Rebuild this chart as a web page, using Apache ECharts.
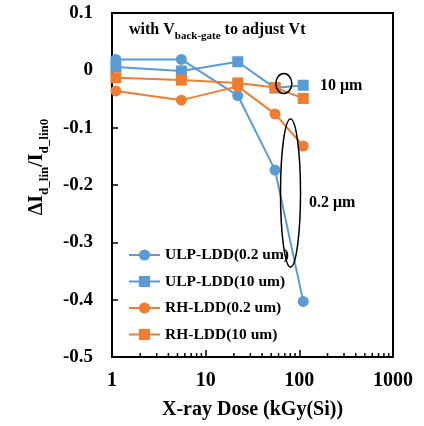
<!DOCTYPE html>
<html><head><meta charset="utf-8">
<script src="https://cdn.jsdelivr.net/npm/echarts@6/dist/echarts.min.js"></script>
<style>html,body{margin:0;padding:0;background:#fff}#c{width:424px;height:426px}</style>
</head><body><div id="c"></div>
<script>
var doses = [1.1, 5.5, 22, 55, 110];
var ulp02 = [0.019, 0.019, -0.044, -0.174, -0.403];
var ulp10 = [0.006, -0.001, 0.015, -0.031, -0.026];
var rh02 = [-0.036, -0.052, -0.028, -0.076, -0.132];
var rh10 = [-0.013, -0.017, -0.022, -0.030, -0.049];
var seriesNames = ['ULP-LDD(0.2 um)', 'ULP-LDD(10 um)', 'RH-LDD(0.2 um)', 'RH-LDD(10 um)'];
var xTicks = [1, 10, 100, 1000];
var yTicks = [0.1, 0, -0.1, -0.2, -0.3, -0.4, -0.5];
var minorX = [2,3,4,5,6,7,8,9,20,30,40,50,60,70,80,90,200,300,400,500,600,700,800,900];
var ellipses = [{x: 68.3, y: -0.023, rx: 8, ry: 10}, {x: 80.5, y: -0.214, rx: 10, ry: 74}];

var BLUE = '#5B9BD5', ORANGE = '#ED7D31';
var FONT = '"Liberation Serif", "Times New Roman", serif';
function pairs(vals){ return doses.map(function(d,i){ return [d, vals[i]]; }); }
function mk(name, vals, color, sym){
  return {name: name, type: 'line', data: pairs(vals), symbol: sym, symbolSize: 11,
    itemStyle: {color: color}, lineStyle: {color: color, width: 2}, z: 3};
}
var chart = echarts.init(document.getElementById('c'), null, {renderer: 'canvas'});
var option = {
  animation: false,
  backgroundColor: '#fff',
  grid: {left: 112, right: 31, top: 13, bottom: 69, show: true, borderColor: '#000', borderWidth: 2, backgroundColor: 'transparent'},
  legend: {
    orient: 'vertical', left: 123, top: 242, itemWidth: 31, itemHeight: 14, itemGap: 10.5,
    data: seriesNames,
    textStyle: {fontFamily: FONT, fontWeight: 'bold', fontSize: 15.5, color: '#000', lineHeight: 15}
  },
  xAxis: {
    type: 'log', logBase: 10, min: 1, max: 1000,
    axisLine: {onZero: false, lineStyle: {color: '#000', width: 2}},
    axisTick: {show: true, inside: true, length: 7, lineStyle: {color: '#000', width: 1.5}},
    splitLine: {show: false}, minorTick: {show: false},
    axisLabel: {fontFamily: FONT, fontWeight: 'bold', fontSize: 20, color: '#000', margin: 14,
      formatter: function(v){ return xTicks.indexOf(v) >= 0 ? String(v) : ''; }},
    name: 'X-ray Dose (kGy(Si))', nameLocation: 'middle', nameGap: 43,
    nameTextStyle: {fontFamily: FONT, fontWeight: 'bold', fontSize: 20, color: '#000'}
  },
  yAxis: {
    type: 'value', min: -0.5, max: 0.1, interval: 0.1,
    axisLine: {onZero: false, lineStyle: {color: '#000', width: 2}},
    axisTick: {show: true, inside: true, length: 6, lineStyle: {color: '#000', width: 1.5}},
    splitLine: {show: false},
    axisLabel: {fontFamily: FONT, fontWeight: 'bold', fontSize: 19, color: '#000', margin: 19,
      formatter: function(v){ var r = Math.round(v*10)/10; return r === 0 ? '0' : String(r); }}
  },
  series: [
    mk(seriesNames[0], ulp02, BLUE, 'circle'),
    mk(seriesNames[1], ulp10, BLUE, 'rect'),
    mk(seriesNames[2], rh02, ORANGE, 'circle'),
    mk(seriesNames[3], rh10, ORANGE, 'rect')
  ]
};
chart.setOption(option);

var g = [];
// minor ticks on log x axis
var yBottom = chart.convertToPixel({yAxisIndex: 0}, -0.5);
minorX.forEach(function(v){
  var px = chart.convertToPixel({xAxisIndex: 0}, v);
  g.push({type: 'line', shape: {x1: px, y1: yBottom, x2: px, y2: yBottom - 4}, style: {stroke: '#000', lineWidth: 1.5}, silent: true, z: 10});
});
// ellipses
ellipses.forEach(function(e){
  var p = chart.convertToPixel({xAxisIndex: 0, yAxisIndex: 0}, [e.x, e.y]);
  g.push({type: 'ellipse', shape: {cx: p[0], cy: p[1], rx: e.rx, ry: e.ry}, style: {fill: 'none', stroke: '#000', lineWidth: 1.5}, z: 10});
});
// title text
g.push({type: 'text', left: 129, top: 22, z: 10, style: {
  text: '{a|with V}{s|back-gate}{a| to adjust Vt}',
  rich: {a: {fontFamily: FONT, fontWeight: 'bold', fontSize: 16, fill: '#000', verticalAlign: 'bottom'},
         s: {fontFamily: FONT, fontWeight: 'bold', fontSize: 11, fill: '#000', verticalAlign: 'bottom', padding: [0,0,-4,0]}}
}});
g.push({type: 'text', left: 320, top: 78, z: 10, style: {text: '10 μm', fontFamily: FONT, fontWeight: 'bold', fontSize: 16, fill: '#000'}});
g.push({type: 'text', left: 309, top: 195, z: 10, style: {text: '0.2 μm', fontFamily: FONT, fontWeight: 'bold', fontSize: 16, fill: '#000'}});
// y axis name
g.push({type: 'text', x: 37, y: 167, rotation: Math.PI/2, z: 10, style: {
  text: '{a|ΔI}{s|d_lin}{a|/I}{s|d_lin0}', align: 'center', verticalAlign: 'middle',
  rich: {a: {fontFamily: FONT, fontWeight: 'bold', fontSize: 20, fill: '#000', verticalAlign: 'bottom'},
         s: {fontFamily: FONT, fontWeight: 'bold', fontSize: 13, fill: '#000', verticalAlign: 'bottom', padding: [0,0,-4,0]}}
}});
chart.setOption({graphic: g});
</script>
</body></html>
